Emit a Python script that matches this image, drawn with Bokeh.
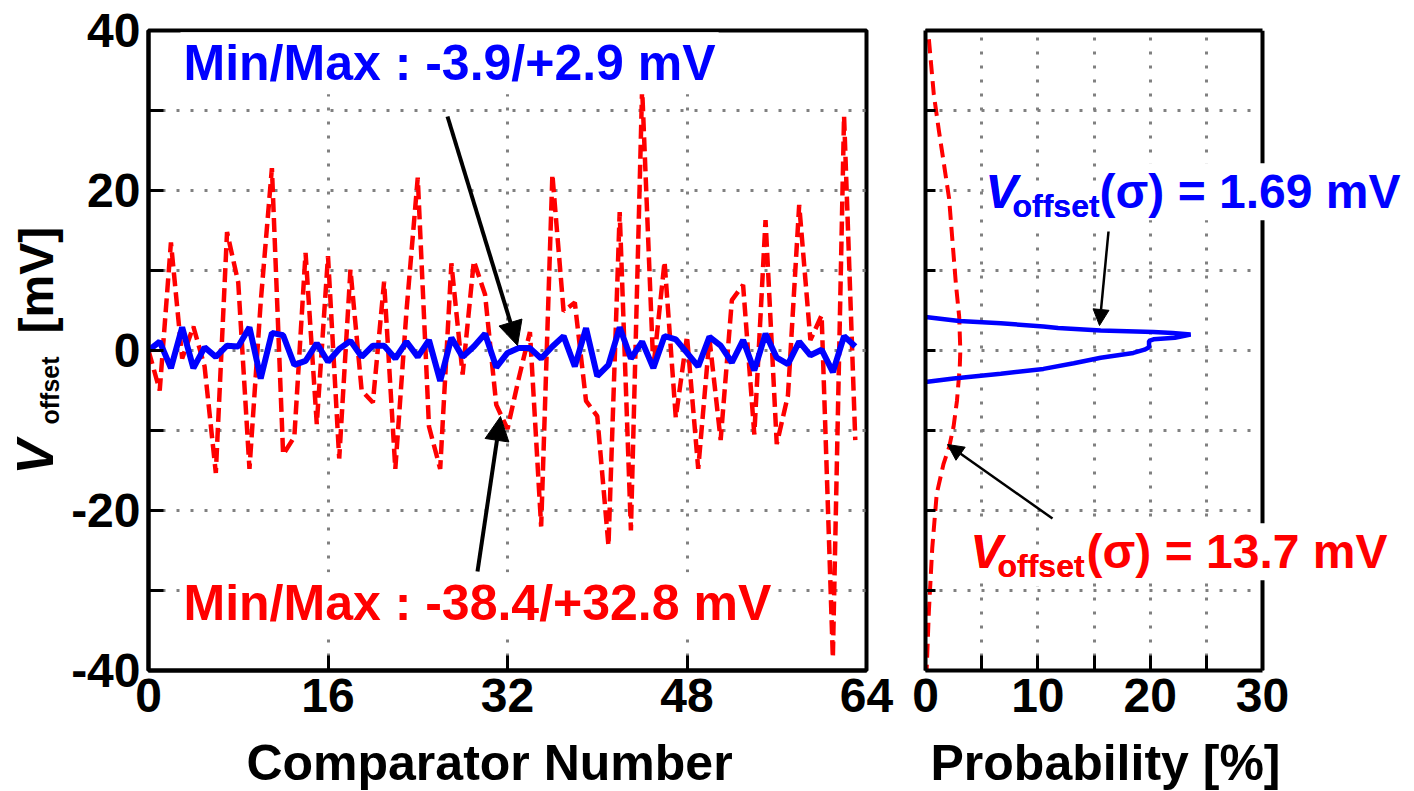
import math
from bokeh.plotting import figure
from bokeh.models import Label, Arrow, NormalHead, FixedTicker, Range1d, LinearAxis
from bokeh.layouts import row, column
from bokeh.embed import file_html
from bokeh.resources import INLINE

# ---------------- data ----------------
comparators = list(range(64))
red_offset = [0, -5, 13.5, -1, 3, -2, -15.3, 14.8, 8.5, -14.8,
              6, 22.8, -13, -10.8, 12.2, -9.2, 11.8, -13.5, 10.1, -5,
              -6.5, 8.6, -14.8, 5, 21.6, -9.5, -14.8, 10.9, -3, 11.2,
              7, -6.8, -9.8, -3.5, 2.3, -22, 22, 4.9, 6, -6.3,
              -8.2, -24.4, 17.3, -22.5, 32.8, -2.2, 11.1, -8.4, 1.8, -14.8,
              1.5, -11.2, 6.3, 8.2, -10.5, 16.3, -11.7, -5.6, 18.2, 1.3,
              4.4, -38.4, 29.3, -11.2]
blue_offset = [0, 1.1, -2.2, 2.9, -2.2, 0.4, -0.8, 0.6, 0.5, 2.9,
               -3.5, 2.2, 1.9, -1.8, -1.3, 0.9, -1.4, 0.2, 1.2, -0.8,
               0.6, 0.6, -1, 1.1, -0.8, 1.3, -3.8, 1.6, -0.8, 0.5,
               2.1, -2.1, -0.3, 0.3, 0.3, -1, 0.5, 1.8, -2, 2.8,
               -3.2, -1.8, 2.9, -1, 1.1, -2.2, 1.8, 1.4, -0.3, -2,
               1.7, 0.6, -1.5, 1.3, -2.5, 2.1, -0.9, -1.7, 1.1, -0.6,
               0.1, -2.7, 1.8, 0.5]

red_pdf_v = [38.9, 32, 27.4, 23.7, 19, 13.7, 8.4, 4.2, 0, -2.1, -6.3,
             -9.5, -12.1, -14.2, -17.9, -24.7, -32.6, -40]
red_pdf_prob = [0.3, 0.74, 1.2, 1.6, 2.1, 2.4, 2.7, 3.0, 3.1, 3.05, 2.8,
                2.5, 2.1, 1.6, 1.0, 0.6, 0.3, 0.1]

blue_pdf_v = [4.2, 3.7, 3.4, 3.0, 2.8, 2.5, 2.3, 2.2, 2.0, 1.6, 1.4, 1.2,
              0.4, 0.1, -0.3, -0.9, -1.6, -2.3, -2.9, -3.5, -3.95]
blue_pdf_prob = [0.0, 3.0, 6.7, 10.5, 11.8, 15.6, 20.3, 22.0, 23.6, 22.2, 20.3,
                 19.9, 19.9, 19.5, 18.5, 15.6, 13.2, 10.5, 6.7, 2.5, 0.0]

x_ticks_left = [0, 16, 32, 48, 64]
y_ticks_major = [-40, -20, 0, 20, 40]
y_ticks_minor = [-30, -10, 10, 30]
y_grid = [-30, -20, -10, 0, 10, 20, 30]
x_grid_left = [16, 32, 48]
x_ticks_right_major = [0, 10, 20, 30]
x_ticks_right_minor = [5, 15, 25]
x_grid_right = [5, 10, 15, 20, 25]

FONT = "Liberation Sans"
RED = "#FF0000"
BLUE = "#0000FF"
GRID = "#808080"

# page geometry (px) used only to place annotations
L_X0, L_X1 = 148, 866
R_X0, R_X1 = 925, 1262
Y_TOP, Y_BOT = 30, 670
YLAB_W = 64
PANEL_H = 730
PAGE_H = 791
K_MID = 0.3465  # distance (em) from alphabetic baseline to middle of text box


def lx(px):
    return (px - L_X0) * 64.0 / (L_X1 - L_X0)


def rx(px):
    return (px - R_X0) * 30.0 / (R_X1 - R_X0)


def yy(py):
    return 40 - (py - Y_TOP) * 80.0 / (Y_BOT - Y_TOP)


def style_axis(ax, tick_len=15):
    ax.axis_line_color = "black"
    ax.axis_line_width = 4
    ax.major_tick_in = tick_len
    ax.major_tick_out = 0
    ax.major_tick_line_width = 3
    ax.major_tick_line_color = "black"
    ax.minor_tick_in = tick_len
    ax.minor_tick_out = 0
    ax.minor_tick_line_width = 3
    ax.minor_tick_line_color = "black"
    ax.major_label_text_font = FONT
    ax.major_label_text_font_style = "bold"
    ax.major_label_text_font_size = "48px"
    ax.major_label_text_color = "black"


def style_grid(g):
    g.grid_line_color = GRID
    g.grid_line_width = 3
    g.grid_line_dash = "3 11"


def add_label(p, x, base_py, ymap, text, color, size, italic=False,
              align="left", bg="white", pad=3):
    """Place text so that its alphabetic baseline lies at page row base_py."""
    lab = Label(x=x, y=ymap(base_py - K_MID * size), text=text, text_color=color,
                text_font=FONT, text_font_size=f"{size}px",
                text_font_style="bold italic" if italic else "bold",
                text_align=align, text_baseline="middle",
                background_fill_color=bg, padding=pad)
    p.add_layout(lab)


def add_vlabel(p, base_px, start_py, text, size, italic=False):
    """Vertical (bottom-to-top) text with baseline at page column base_px."""
    lab = Label(x=base_px - K_MID * size, y=yy(start_py), text=text,
                text_color="black", text_font=FONT, text_font_size=f"{size}px",
                text_font_style="bold italic" if italic else "bold",
                angle=math.pi / 2, text_align="left", text_baseline="middle",
                background_fill_color=None, padding=0)
    p.add_layout(lab)


def sigma_text(p, xv, xs, xr, base_py, sub_py, rest, color):
    add_label(p, xv, base_py, yy, "V", color, 48, italic=True, pad=2)
    add_label(p, xs, sub_py, yy, "offset", color, 32, pad=2)
    add_label(p, xr, base_py, yy, rest, color, 48, pad=2)
    add_label(p, xs, sub_py, yy, "offset", color, 32, bg=None, pad=2)
    add_label(p, xv, base_py, yy, "V", color, 48, italic=True, bg=None, pad=2)


# ---------------- y-axis title strip (frame is aligned with the panels' frames) ----
py_fig = figure(width=YLAB_W, height=PANEL_H, x_range=Range1d(0, YLAB_W),
                y_range=Range1d(-40, 40), x_axis_location=None, y_axis_location=None,
                min_border_left=0, min_border_right=0, min_border_top=Y_TOP,
                min_border_bottom=PANEL_H - Y_BOT,
                output_backend="svg", toolbar_location=None)
py_fig.outline_line_color = None
py_fig.grid.visible = False
add_vlabel(py_fig, 53, 474, "V", 52, italic=True)
add_vlabel(py_fig, 58.5, 424, "offset", 25)
add_vlabel(py_fig, 53, 333, "[mV]", 48)

# ---------------- left panel ----------------
p1 = figure(width=L_X1 + 29 - YLAB_W, height=PANEL_H, x_range=Range1d(0, 64),
            y_range=Range1d(-40, 40), output_backend="svg", toolbar_location=None,
            min_border_left=L_X0 - YLAB_W, min_border_right=29, min_border_top=Y_TOP,
            min_border_bottom=PANEL_H - Y_BOT)
p1.outline_line_color = "black"
p1.outline_line_width = 4
style_axis(p1.xaxis[0])
style_axis(p1.yaxis[0])
p1.xaxis.ticker = FixedTicker(ticks=x_ticks_left)
p1.yaxis.ticker = FixedTicker(ticks=y_ticks_major, minor_ticks=y_ticks_minor)
p1.yaxis.major_label_overrides = {v: str(v) for v in y_ticks_major}
p1.xaxis.major_label_standoff = 8
p1.yaxis.major_label_standoff = 8
p1.xgrid.ticker = FixedTicker(ticks=x_grid_left)
p1.ygrid.ticker = FixedTicker(ticks=y_grid)
style_grid(p1.xgrid[0])
style_grid(p1.ygrid[0])

p1.line(comparators, red_offset, line_color=RED, line_width=4.5, line_dash="14 6")
p1.line(comparators, blue_offset, line_color=BLUE, line_width=6)

add_label(p1, lx(180), 80, yy, "Min/Max : -3.9/+2.9 mV", BLUE, 50)
add_label(p1, lx(180), 620, yy, "Min/Max : -38.4/+32.8 mV", RED, 50)

p1.add_layout(Arrow(end=NormalHead(size=24, fill_color="black", line_color="black"),
                    x_start=lx(447), y_start=yy(116), x_end=lx(517), y_end=yy(345),
                    line_width=4, line_color="black"))
p1.add_layout(Arrow(end=NormalHead(size=24, fill_color="black", line_color="black"),
                    x_start=lx(477), y_start=yy(571), x_end=lx(500), y_end=yy(416),
                    line_width=4, line_color="black"))

# ---------------- right panel ----------------
x_right_end = 30.0 * (1414 - R_X0) / (R_X1 - R_X0)
p2 = figure(width=1414 - (L_X1 + 29), height=PANEL_H, x_range=Range1d(0, x_right_end),
            y_range=Range1d(-40, 40), output_backend="svg", toolbar_location=None,
            min_border_left=R_X0 - (L_X1 + 29), min_border_right=0, min_border_top=Y_TOP,
            min_border_bottom=PANEL_H - Y_BOT)
p2.outline_line_color = None
style_axis(p2.xaxis[0])
style_axis(p2.yaxis[0], tick_len=10)
p2.xaxis.bounds = (x_ticks_right_major[0], x_ticks_right_major[-1])
p2.xaxis.ticker = FixedTicker(ticks=x_ticks_right_major, minor_ticks=x_ticks_right_minor)
p2.xaxis.major_label_standoff = 8
p2.yaxis.ticker = FixedTicker(ticks=[], minor_ticks=y_ticks_major + y_ticks_minor)
p2.xgrid.ticker = FixedTicker(ticks=x_grid_right)
style_grid(p2.xgrid[0])
p2.ygrid.visible = False

top_ax = LinearAxis(bounds=(x_ticks_right_major[0], x_ticks_right_major[-1]),
                    ticker=FixedTicker(ticks=[]), major_tick_in=0, major_tick_out=0,
                    minor_tick_line_color=None, axis_line_width=4, axis_line_color="black")
p2.add_layout(top_ax, "above")

# horizontal dotted grid limited to the panel, and its right border
p2.segment(x0=[x_ticks_right_major[0]] * len(y_grid), x1=[x_ticks_right_major[-1]] * len(y_grid),
           y0=y_grid, y1=y_grid, line_color=GRID, line_width=3, line_dash="3 11")
p2.segment(x0=[x_ticks_right_major[-1]], x1=[x_ticks_right_major[-1]],
           y0=[y_ticks_major[0]], y1=[y_ticks_major[-1]], line_color="black", line_width=4)

p2.line(red_pdf_prob, red_pdf_v, line_color=RED, line_width=4, line_dash="14 7")
p2.line(blue_pdf_prob, blue_pdf_v, line_color=BLUE, line_width=4.5)

sigma_text(p2, rx(983), rx(1010), rx(1097), 208, 217, "(σ) = 1.69 mV", BLUE)
sigma_text(p2, rx(968), rx(995), rx(1084), 568, 577, "(σ) = 13.7 mV", RED)

p2.add_layout(Arrow(end=NormalHead(size=16, fill_color="black", line_color="black"),
                    x_start=rx(1108), y_start=yy(231), x_end=rx(1099), y_end=yy(325),
                    line_width=2.5, line_color="black"))
p2.add_layout(Arrow(end=NormalHead(size=16, fill_color="black", line_color="black"),
                    x_start=rx(1052), y_start=yy(518), x_end=rx(947), y_end=yy(444),
                    line_width=2.5, line_color="black"))

# ---------------- x-axis title strip ----------------
XT_H = PAGE_H - PANEL_H
px_fig = figure(width=1414, height=XT_H, x_range=Range1d(0, 1414), y_range=Range1d(0, XT_H),
                x_axis_location=None, y_axis_location=None, min_border=0,
                output_backend="svg", toolbar_location=None)
px_fig.outline_line_color = None
px_fig.grid.visible = False


def strip_y(py):
    return PAGE_H - py


add_label(px_fig, 489, 780, strip_y, "Comparator Number", "black", 50, align="center", bg=None, pad=0)
add_label(px_fig, 1105, 780, strip_y, "Probability [%]", "black", 50, align="center", bg=None, pad=0)

layout = column(row(py_fig, p1, p2), px_fig)
open("out.html", "w").write(file_html(layout, INLINE))
